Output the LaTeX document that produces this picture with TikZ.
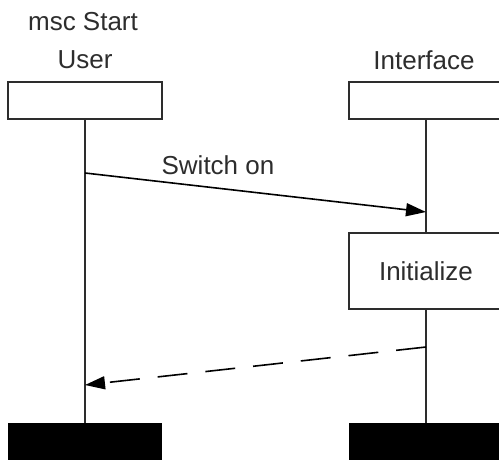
\documentclass[tikz,border=0pt]{standalone}
\usepackage{fontspec}
\setmainfont{Liberation Sans}
\usetikzlibrary{arrows.meta}
\definecolor{ink}{RGB}{45,45,45}
\begin{document}
\begin{tikzpicture}[x=1pt,y=-1pt,
  lbl/.style={font=\fontsize{26}{29}\selectfont, text=ink, inner sep=0pt},
  headbox/.style={draw=ink, line width=1.8pt, fill=white, minimum width=154pt, minimum height=37pt, inner sep=0pt},
  endbar/.style={fill=black, draw=none, minimum width=154pt, minimum height=40pt, inner sep=0pt, anchor=north west},
  lifeline/.style={draw=ink, line width=1.8pt},
  msgarrow/.style={draw=black, line width=1.6pt, -{Triangle[length=20pt,width=13pt]}},
  replyarrow/.style={msgarrow, dash pattern=on 30pt off 18pt}
]
\useasboundingbox (0,0) rectangle (499,459);

% title and instance names
\node[lbl] (title) at (83,22) {msc Start};
\node[lbl] (userlbl) at (85,60) {User};
\node[lbl] (iflbl) at (424,60) {Interface};

% instance heads
\node[headbox] (userhead) at (85,100.5) {};
\node[headbox] (ifhead) at (426,100.5) {};

% instance ends
\node[endbar] (userend) at (8,423) {};
\node[endbar] (ifend) at (349,423) {};

% lifelines
\draw[lifeline] (userhead.south) -- (userend.north -| userhead.south);
\draw[lifeline] (ifhead.south) -- (ifend.north -| ifhead.south);

% action box on the Interface lifeline
\node[headbox, minimum height=76pt, lbl] (init) at (426,271) {Initialize};

% messages
\coordinate (s1) at (85,173);
\coordinate (e1) at (426,212);
\draw[msgarrow] (s1) -- node[lbl, pos=0.39, above=13pt, sloped=false] (swlbl) {Switch on} (e1);

\coordinate (s2) at (426,347);
\coordinate (e2) at (85,385);
\draw[replyarrow] (s2) -- (e2);
\end{tikzpicture}
\end{document}
